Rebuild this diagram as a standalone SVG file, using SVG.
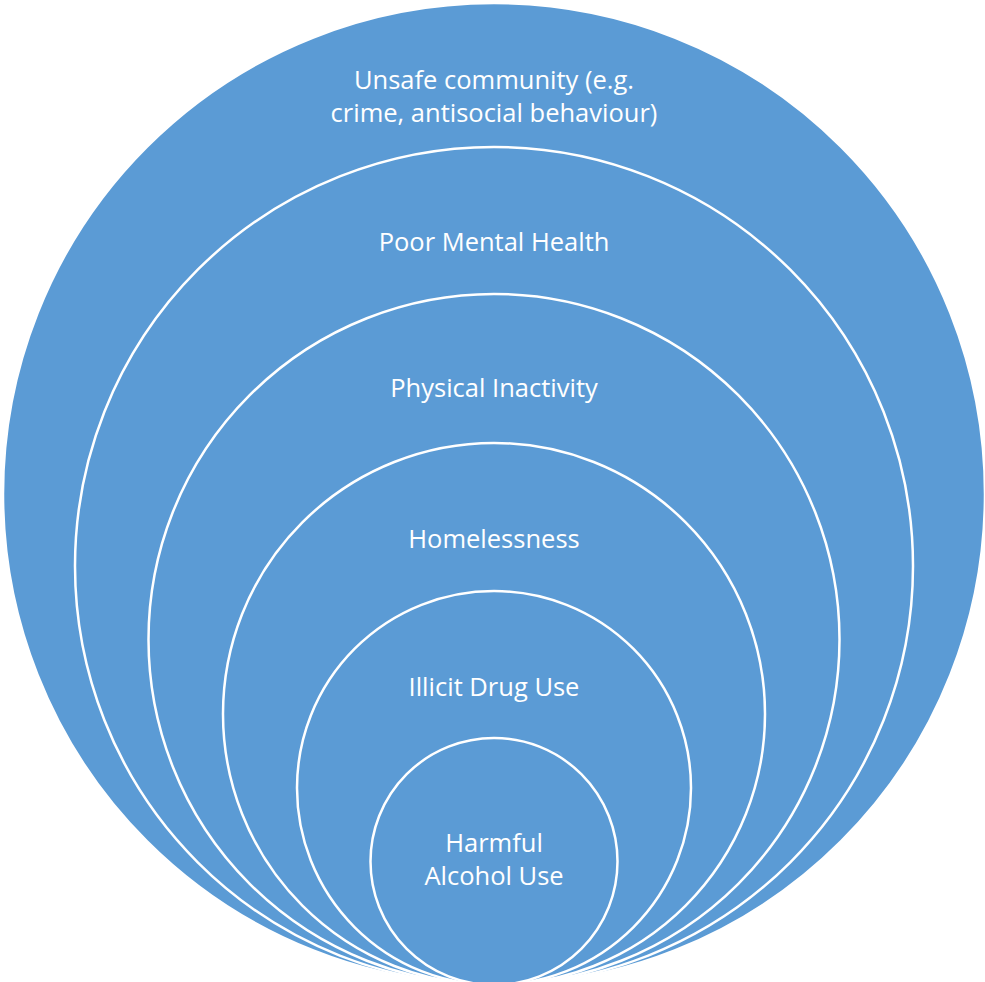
<svg xmlns="http://www.w3.org/2000/svg" width="985" height="982" viewBox="0 0 985 982">
  <style>
    .ring { fill: #5B9BD5; stroke: #FFFFFF; stroke-width: 2.5; }
    .lbl { fill: #FFFFFF; font-family: "Open Sans", "Noto Sans", "Liberation Sans", sans-serif; font-size: 25.5px; text-anchor: middle; }
  </style>
  <rect width="985" height="982" fill="#FFFFFF"/>
  <!-- Nested circles, all touching at the bottom -->
  <g id="unsafe-community">
    <circle class="ring" cx="494" cy="494" r="491"/>
    <text class="lbl" x="494" y="89">Unsafe community (e.g.</text>
    <text class="lbl" x="494" y="122">crime, antisocial behaviour)</text>
  </g>
  <g id="poor-mental-health">
    <circle class="ring" cx="494" cy="566" r="419"/>
    <text class="lbl" x="494" y="251">Poor Mental Health</text>
  </g>
  <g id="physical-inactivity">
    <circle class="ring" cx="494" cy="639.5" r="345.5"/>
    <text class="lbl" x="494" y="397">Physical Inactivity</text>
  </g>
  <g id="homelessness">
    <circle class="ring" cx="494" cy="714" r="271"/>
    <text class="lbl" x="494" y="548">Homelessness</text>
  </g>
  <g id="illicit-drug-use">
    <circle class="ring" cx="494" cy="788" r="197"/>
    <text class="lbl" x="494" y="696">Illicit Drug Use</text>
  </g>
  <g id="harmful-alcohol-use">
    <circle class="ring" cx="494" cy="861.5" r="123.5"/>
    <text class="lbl" x="494" y="852">Harmful</text>
    <text class="lbl" x="494" y="885">Alcohol Use</text>
  </g>
  <g id="connectors"/>
</svg>
